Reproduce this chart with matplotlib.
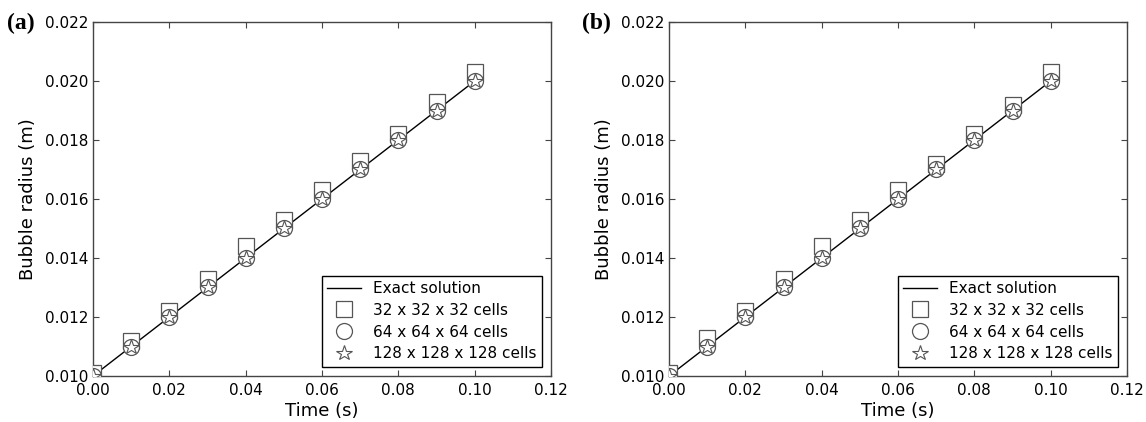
import matplotlib

matplotlib.use("Agg")
import matplotlib.pyplot as plt

# Bubble radius vs time: exact growth law and three mesh resolutions
time = [0.00, 0.01, 0.02, 0.03, 0.04, 0.05, 0.06, 0.07, 0.08, 0.09, 0.10]
exact = [0.010, 0.011, 0.012, 0.013, 0.014, 0.015, 0.016, 0.017, 0.018, 0.019, 0.020]

coarse_a = [0.0101, 0.0112, 0.0122, 0.0133, 0.0144, 0.0153, 0.0163, 0.0173, 0.0182, 0.0193, 0.0203]
medium_a = [0.0100, 0.0110, 0.0120, 0.0130, 0.0140, 0.0150, 0.0160, 0.0170, 0.0180, 0.0190, 0.0200]
fine_a = [0.0100, 0.0110, 0.0120, 0.0130, 0.0140, 0.0150, 0.0160, 0.0170, 0.0180, 0.0190, 0.0200]

coarse_b = [0.0101, 0.0113, 0.0122, 0.0133, 0.0144, 0.0153, 0.0163, 0.0172, 0.0182, 0.0192, 0.0203]
medium_b = [0.0100, 0.0110, 0.0120, 0.0130, 0.0140, 0.0150, 0.0160, 0.0170, 0.0180, 0.0190, 0.0200]
fine_b = [0.0100, 0.0110, 0.0120, 0.0130, 0.0140, 0.0150, 0.0160, 0.0170, 0.0180, 0.0190, 0.0200]

series_labels = ["Exact solution", "32 x 32 x 32 cells", "64 x 64 x 64 cells",
                 "128 x 128 x 128 cells"]
panel_tags = ["(a)", "(b)"]
xticks = [0.00, 0.02, 0.04, 0.06, 0.08, 0.10, 0.12]
yticks = [0.010, 0.012, 0.014, 0.016, 0.018, 0.020, 0.022]

W, H = 1146, 422
fig = plt.figure(figsize=(W / 100, H / 100), dpi=100)

edge = "#555555"


def draw_panel(ax, coarse, medium, fine):
    ax.plot(time, exact, color="black", lw=1.0, label=series_labels[0], zorder=2)
    ax.plot(time, coarse, ls="none", marker="s", ms=11, mfc="white", mec=edge,
            mew=0.9, label=series_labels[1], zorder=3)
    ax.plot(time, medium, ls="none", marker="o", ms=11.5, mfc="white", mec=edge,
            mew=0.9, label=series_labels[2], zorder=4)
    ax.plot(time, fine, ls="none", marker="*", ms=11.5, mfc="white", mec=edge,
            mew=0.8, label=series_labels[3], zorder=5)
    ax.set_xlim(0, 0.12)
    ax.set_ylim(0.010, 0.022)
    ax.set_xticks(xticks)
    ax.set_yticks(yticks)
    ax.set_xticklabels([f"{v:.2f}" for v in xticks])
    ax.set_yticklabels([f"{v:.3f}" for v in yticks])
    ax.tick_params(direction="in", top=True, right=True, length=4, width=0.8,
                   color="#444444", labelsize=11, pad=3)
    ax.tick_params(axis="x", pad=5)
    for s in ax.spines.values():
        s.set_color("#444444")
        s.set_linewidth(1.0)
    ax.set_xlabel("Time (s)", fontsize=13, labelpad=3)
    ax.set_ylabel("Bubble radius (m)", fontsize=13, labelpad=6)
    leg = ax.legend(loc="lower right", numpoints=1, fontsize=11, fancybox=False,
                    framealpha=1, edgecolor="black", borderpad=0.35,
                    labelspacing=0.45, handletextpad=0.8, handlelength=2.2,
                    borderaxespad=0.6)
    leg.get_frame().set_linewidth(1.0)


lefts = [93, 669]
for left, data in zip(lefts, [(coarse_a, medium_a, fine_a),
                              (coarse_b, medium_b, fine_b)]):
    ax = fig.add_axes([left / W, (H - 376) / H, 458 / W, 354 / H])
    draw_panel(ax, *data)

fig.text(7 / W, 1 - 23 / H, panel_tags[0], fontsize=17, fontweight="bold",
         family="Liberation Serif", va="center", ha="left")
fig.text(582 / W, 1 - 23 / H, panel_tags[1], fontsize=17, fontweight="bold",
         family="Liberation Serif", va="center", ha="left")

fig.savefig("out.png", dpi=100)
